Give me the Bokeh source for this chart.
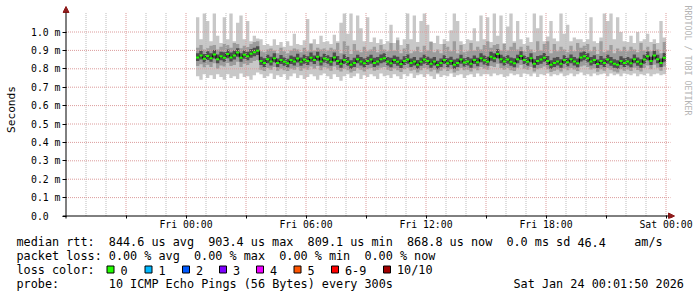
import math
from bokeh.plotting import figure
from bokeh.layouts import column
from bokeh.models import FixedTicker, Label, Arrow, NormalHead, Range1d
from bokeh.core.properties import value
from bokeh.embed import file_html
from bokeh.resources import INLINE

# ---------------- data (round-trip times in microseconds, 10-minute bins) ----------------
# first bin starts Fri 00:30; hours are counted from Thu 18:00
start_hour = 6.5
bin_hours = 1.0 / 6.0

median_us = [862, 872, 855,
    870, 858, 878, 852, 868, 860,
    880, 862, 872, 888, 860, 876,
    868, 882, 890, 898, 842, 832,
    852, 840, 858, 832, 848, 838,
    830, 848, 840, 856, 838, 850,
    842, 860, 848, 866, 840, 856,
    850, 838, 862, 842, 828, 848,
    838, 822, 832, 852, 840, 830,
    842, 850, 832, 840, 852, 858,
    840, 830, 848, 838, 826, 842,
    850, 832, 840, 822, 838, 850,
    842, 828, 840, 820, 832, 848,
    830, 842, 822, 832, 850, 834,
    840, 828, 848, 836, 858, 846,
    838, 866, 858, 880, 852, 840,
    850, 838, 830, 852, 870, 848,
    838, 858, 828, 842, 850, 860,
    842, 822, 832, 840, 828, 848,
    836, 852, 840, 830, 862, 868,
    858, 840, 848, 826, 842, 832,
    850, 838, 828, 822, 842, 832,
    840, 830, 852, 838, 828, 850,
    868, 842, 872, 852, 832, 860]

max_us = [1080, 960, 1100,
    1060, 950, 1100, 980, 940, 1080,
    960, 1100, 950, 1050, 1090, 960,
    1060, 950, 980, 965, 960, 930,
    935, 925, 960, 930, 945, 920,
    950, 925, 990, 935, 930, 955,
    1070, 940, 960, 935, 980, 945,
    950, 935, 985, 950, 1050, 1100,
    990, 1100, 955, 1090, 1020, 950,
    1080, 945, 970, 940, 960, 935,
    950, 1040, 940, 970, 930, 960,
    1100, 960, 1090, 945, 1060, 1100,
    1040, 950, 940, 980, 935, 960,
    950, 1010, 1100, 1060, 950, 935,
    960, 955, 1020, 950, 1090, 960,
    1080, 945, 1100, 980, 1090, 940,
    1030, 1100, 950, 1060, 960, 935,
    970, 945, 1100, 1020, 1090, 950,
    975, 1060, 965, 950, 1100, 990,
    1040, 950, 970, 960, 960, 945,
    960, 1080, 950, 940, 970, 1100,
    1060, 1100, 960, 1080, 1000, 950,
    945, 980, 940, 1000, 950, 960,
    990, 945, 960, 940, 1060, 970]

min_us = [760, 740, 770,
    750, 765, 745, 770, 755, 740,
    770, 750, 760, 745, 775, 755,
    760, 740, 765, 780, 770, 750,
    760, 775, 745, 765, 755, 770,
    740, 760, 775, 750, 765, 745,
    755, 770, 760, 740, 765, 775,
    760, 745, 770, 755, 735, 760,
    770, 750, 760, 775, 745, 765,
    755, 770, 760, 745, 775, 760,
    765, 750, 770, 760, 745, 770,
    760, 775, 750, 765, 770, 755,
    770, 760, 745, 770, 755, 765,
    760, 775, 755, 765, 770, 750,
    765, 770, 755, 775, 760, 770,
    770, 760, 775, 765, 770, 755,
    760, 775, 765, 770, 755, 775,
    770, 760, 775, 755, 770, 765,
    775, 760, 770, 765, 775, 760,
    765, 775, 760, 770, 780, 765,
    770, 760, 775, 765, 770, 775,
    760, 775, 765, 770, 760, 775,
    770, 765, 775, 760, 770, 765,
    775, 760, 770, 775, 765, 770]

low_us = [815, 825, 808,
    822, 810, 830, 800, 818, 812,
    832, 815, 820, 838, 810, 828,
    820, 832, 842, 848, 795, 788,
    805, 795, 810, 790, 800, 792,
    788, 800, 795, 808, 790, 802,
    795, 812, 800, 815, 792, 808,
    802, 790, 812, 795, 785, 800,
    792, 780, 788, 805, 795, 785,
    798, 805, 790, 795, 806, 810,
    795, 788, 802, 792, 782, 798,
    805, 790, 795, 780, 792, 805,
    798, 785, 795, 778, 790, 802,
    788, 798, 780, 790, 805, 792,
    795, 786, 802, 792, 810, 800,
    795, 815, 810, 828, 805, 795,
    805, 792, 788, 806, 820, 800,
    795, 810, 785, 798, 805, 812,
    798, 782, 790, 796, 786, 802,
    792, 805, 796, 788, 812, 818,
    810, 796, 802, 784, 798, 790,
    805, 795, 786, 780, 798, 790,
    796, 788, 806, 794, 786, 804,
    818, 798, 822, 806, 790, 812]

high_us = [915, 930, 905,
    912, 925, 930, 905, 920, 935,
    930, 915, 940, 935, 912, 925,
    918, 935, 945, 950, 895, 890,
    905, 910, 900, 885, 915, 895,
    885, 900, 910, 905, 890, 915,
    895, 935, 900, 915, 905, 910,
    900, 915, 905, 940, 885, 950,
    925, 880, 935, 900, 890, 920,
    895, 905, 920, 890, 930, 905,
    895, 940, 900, 955, 885, 910,
    935, 885, 895, 920, 890, 925,
    900, 945, 890, 905, 885, 935,
    920, 895, 950, 885, 930, 890,
    895, 940, 900, 920, 905, 930,
    950, 915, 930, 935, 900, 935,
    900, 920, 940, 905, 920, 895,
    925, 905, 890, 950, 900, 935,
    950, 885, 935, 895, 920, 905,
    890, 925, 895, 940, 915, 925,
    935, 895, 920, 880, 950, 890,
    900, 930, 885, 910, 895, 920,
    895, 920, 905, 890, 940, 900,
    920, 895, 935, 905, 885, 945]

core_low_us = [842, 850, 835,
    848, 838, 856, 830, 846, 838,
    858, 840, 850, 866, 838, 854,
    846, 860, 868, 875, 820, 810,
    830, 818, 836, 810, 826, 816,
    808, 826, 818, 834, 816, 828,
    820, 838, 826, 844, 818, 834,
    828, 816, 840, 820, 806, 826,
    816, 800, 810, 830, 818, 808,
    820, 828, 810, 818, 830, 836,
    818, 808, 826, 816, 804, 820,
    828, 810, 818, 800, 816, 828,
    820, 806, 818, 798, 810, 826,
    808, 820, 800, 810, 828, 812,
    818, 806, 826, 814, 836, 824,
    816, 844, 836, 858, 830, 818,
    828, 816, 808, 830, 848, 826,
    816, 836, 806, 820, 828, 838,
    820, 800, 810, 818, 806, 826,
    814, 830, 818, 808, 840, 846,
    836, 818, 826, 804, 820, 810,
    828, 816, 806, 800, 820, 810,
    818, 808, 830, 816, 806, 828,
    846, 820, 850, 830, 810, 838]

core_high_us = [885, 898, 880,
    895, 884, 902, 878, 892, 890,
    905, 888, 900, 912, 885, 900,
    892, 908, 915, 922, 866, 858,
    876, 866, 884, 856, 875, 862,
    855, 872, 866, 882, 862, 876,
    868, 888, 872, 892, 866, 882,
    874, 864, 888, 870, 852, 878,
    864, 846, 860, 876, 864, 856,
    866, 876, 860, 864, 878, 884,
    864, 860, 872, 866, 850, 868,
    878, 856, 864, 848, 862, 876,
    866, 856, 864, 844, 856, 874,
    858, 866, 850, 856, 876, 858,
    864, 856, 872, 860, 884, 872,
    866, 892, 884, 906, 876, 866,
    874, 862, 858, 876, 896, 872,
    864, 884, 852, 870, 874, 886,
    870, 846, 860, 864, 852, 874,
    860, 878, 864, 856, 888, 894,
    884, 864, 874, 850, 870, 856,
    876, 864, 852, 846, 868, 858,
    864, 856, 878, 862, 852, 876,
    894, 866, 898, 876, 856, 886]

# axes (hours since Thu 18:00, milliseconds)
x_tick_hours = [3, 6, 9, 12, 15, 18, 21, 24, 27, 30]
x_tick_labels = ["", "Fri 00:00", "", "Fri 06:00", "", "Fri 12:00", "", "Fri 18:00", "", "Sat 00:00"]
x_minor_hours = [1, 2, 4, 5, 7, 8, 10, 11, 13, 14, 16, 17, 19, 20, 22, 23, 25, 26, 28, 29]
y_ticks = [0.0, 0.1, 0.2, 0.3, 0.4, 0.5, 0.6, 0.7, 0.8, 0.9, 1.0]
y_tick_labels = ["0.0\u00a0\u00a0", "0.1 m", "0.2 m", "0.3 m", "0.4 m", "0.5 m",
                 "0.6 m", "0.7 m", "0.8 m", "0.9 m", "1.0 m"]

# legend texts: (character column, text)
legend_rows = [
    [(0, "median rtt:"), (13, "844.6 us avg"), (27, "903.4 us max"), (41, "809.1 us min"),
     (55, "868.8 us now"), (69, "0.0 ms sd"), (79, "46.4"), (87, "am/s")],
    [(0, "packet loss:"), (13, "0.00 % avg"), (25, "0.00 % max"), (37, "0.00 % min"), (49, "0.00 % now")],
    [(0, "loss color:")],
    [(0, "probe:"), (13, "10 ICMP Echo Pings (56 Bytes) every 300s"), (70, "Sat Jan 24 00:01:50 2026")],
]
loss_names = ["0", "1", "2", "3", "4", "5", "6-9", "10/10"]
loss_colors = ["#22ff00", "#00b8ff", "#0059ff", "#7e00ff", "#ee00ff", "#ff5500", "#ff0000", "#a10000"]

# ---------------- layout ----------------
W = 697
P_H = 234           # main figure height
L_H = 297 - P_H     # legend strip height
FL, FB = 62, 218    # frame left / bottom (pixels)
PX0, PY0 = 65.5, 215.5   # pixel position of hour 0 / value 0
SX, SY = 20.0, 184.0     # pixels per hour / per ms


def hx(px):
    return (px - PX0) / SX


def vy(py):
    return (PY0 - py) / SY


MONO = "DejaVu Sans Mono"

p = figure(width=W, height=P_H,
           x_range=Range1d(hx(FL), hx(W)), y_range=Range1d(vy(FB), vy(0)),
           output_backend="svg", toolbar_location=None,
           min_border_left=FL, min_border_right=0, min_border_top=0, min_border_bottom=P_H - FB)
p.outline_line_color = None
p.background_fill_color = "white"
p.border_fill_color = "white"
p.xgrid.visible = False
p.ygrid.visible = False

n = len(median_us)
times = [start_hour + i * bin_hours for i in range(n)]
xs = times + [times[-1] + bin_hours]


def ms(a):
    v = [x / 1000.0 for x in a]
    return v + [v[-1]]


p.varea_step(x=xs, y1=ms(min_us), y2=ms(max_us), step_mode="after", fill_color="#c8c8c8")
p.varea_step(x=xs, y1=ms(low_us), y2=ms(high_us), step_mode="after", fill_color="#9c9c9c")
p.varea_step(x=xs, y1=ms(core_low_us), y2=ms(core_high_us), step_mode="after", fill_color="#4e4e4e")

# grid (dotted), drawn through the plot scales
g_top = vy(12)
g_right = hx(670)
p.segment(x0=x_minor_hours, x1=x_minor_hours, y0=[0.0] * len(x_minor_hours), y1=[g_top] * len(x_minor_hours),
          line_color="#bdbdbd", line_width=1, line_dash="1 1")
p.segment(x0=x_tick_hours, x1=x_tick_hours, y0=[0.0] * len(x_tick_hours), y1=[g_top] * len(x_tick_hours),
          line_color="#dc9c9c", line_width=1, line_dash="1 1")
p.segment(x0=[0.0] * 10, x1=[g_right] * 10, y0=y_ticks[1:], y1=y_ticks[1:],
          line_color="#dc9c9c", line_width=1, line_dash="1 1")

med = ms(median_us)
p.step(x=xs, y=med, mode="after", line_color="black", line_width=1)
p.segment(x0=times, x1=[t + bin_hours for t in times], y0=med[:-1], y1=med[:-1],
          line_color="#22ff00", line_width=2)

# axes
p.xaxis.ticker = FixedTicker(ticks=x_tick_hours, minor_ticks=[])
p.xaxis.major_label_overrides = {h: s for h, s in zip(x_tick_hours, x_tick_labels)}
p.yaxis.ticker = FixedTicker(ticks=y_ticks, minor_ticks=[])
p.yaxis.major_label_overrides = {v: s for v, s in zip(y_ticks, y_tick_labels)}
for ax in (p.xaxis, p.yaxis):
    ax.axis_line_color = None
    ax.major_tick_line_color = "black"
    ax.major_tick_out = 0
    ax.minor_tick_line_color = None
    ax.major_label_text_font = MONO
    ax.major_label_text_font_size = "9.8px"
    ax.major_label_text_color = "black"
p.xaxis.major_tick_in = 3
p.yaxis.major_tick_in = 4
p.xaxis.major_label_standoff = 0
p.yaxis.major_label_standoff = 2
p.yaxis.bounds = (vy(218), vy(9))
p.yaxis.axis_label = "Seconds"
p.yaxis.axis_label_text_font = MONO
p.yaxis.axis_label_text_font_size = "11.2px"
p.yaxis.axis_label_text_font_style = "normal"
p.yaxis.axis_label_text_color = "black"
p.yaxis.axis_label_standoff = 10

head_color = "#8e1b1b"
p.add_layout(Arrow(x_start=hx(62), y_start=0.0, x_end=hx(674), y_end=0.0,
                   line_color="black", line_width=1,
                   end=NormalHead(size=6, fill_color=head_color, line_color=head_color)))
p.add_layout(Arrow(x_start=0.0, y_start=vy(219), x_end=0.0, y_end=vy(6),
                   line_color="black", line_width=1,
                   end=NormalHead(size=6, fill_color=head_color, line_color=head_color)))

p.add_layout(Label(x=hx(687), y=vy(60), text="RRDTOOL / TOBI OETIKER", angle=-math.pi / 2,
                   text_align="center", text_baseline="middle",
                   text_font=MONO, text_font_size="8.3px", text_color="#b4b4b4"))

# ---------------- legend strip (pixel coordinates, y downwards) ----------------
leg = figure(width=W, height=L_H, x_range=Range1d(0, W), y_range=Range1d(L_H, 0),
             x_axis_type=None, y_axis_type=None, output_backend="svg", toolbar_location=None,
             min_border=0, min_border_left=0, min_border_right=0, min_border_top=0, min_border_bottom=0)
leg.outline_line_color = None
leg.grid.visible = False
leg.background_fill_color = "white"
leg.border_fill_color = "white"

# keep each figure's frame where it was asked for (no frame alignment in the column)
for fig in (p, leg):
    try:
        fig.frame_align = False
    except Exception:
        pass

CH = 7.1
row_y = [241 - P_H + 0.5, 255 - P_H + 0.5, 269 - P_H + 0.5, 283 - P_H + 0.5]
tx, ty, tt = [], [], []
for row, yy in zip(legend_rows, row_y):
    for col, txt in row:
        tx.append(16 + col * CH)
        ty.append(yy)
        tt.append(txt)
sq_x = [106.5, 144.5, 182, 219, 256, 293.5, 331, 383]
for sx, name in zip(sq_x, loss_names):
    tx.append(sx + 13.5)
    ty.append(row_y[2])
    tt.append(name)
leg.text(x=tx, y=ty, text=tt, text_baseline="middle", text_align="left",
         text_font=value(MONO), text_font_size=value("11.8px"), text_color="black")
leg.quad(left=sq_x, right=[s + 7 for s in sq_x],
         top=[265.5 - P_H] * len(sq_x), bottom=[272.5 - P_H] * len(sq_x),
         fill_color=loss_colors, line_color="black", line_width=1)

page = column(p, leg, spacing=0)
open("out.html", "w").write(file_html(page, INLINE))
